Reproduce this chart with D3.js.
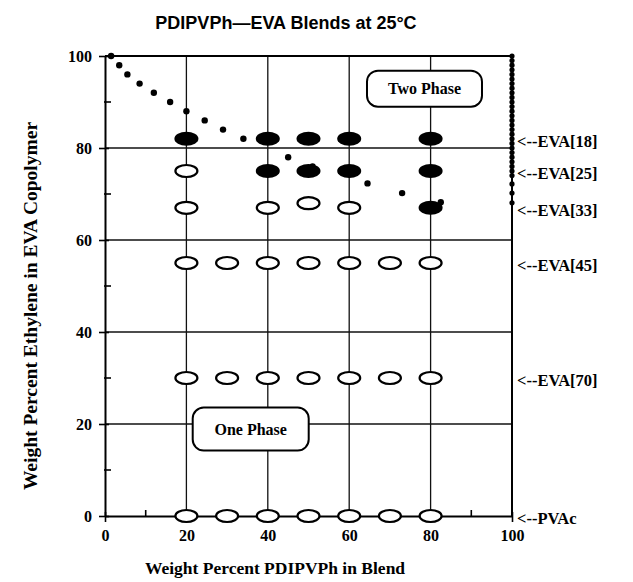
<!DOCTYPE html>
<html>
<head>
<meta charset="utf-8">
<script src="https://cdn.jsdelivr.net/npm/d3@7"></script>
<style>
  html, body { margin: 0; padding: 0; background: #fff; }
  svg { display: block; }
</style>
</head>
<body>
<svg id="chart" width="633" height="582"></svg>
<script>
// Axis ticks
const xMajorTicks = [0, 20, 40, 60, 80, 100];
const xMinorTicks = [10, 30, 50, 70, 90];
const yMajorTicks = [0, 20, 40, 60, 80, 100];
const yMinorTicks = [10, 30, 50, 70, 90];

// Copolymer grades and their ethylene content
const gradeLabels = ["<--EVA[18]", "<--EVA[25]", "<--EVA[33]", "<--EVA[45]", "<--EVA[70]", "<--PVAc"];
const gradeEthylene = [82, 75, 67, 55, 30, 0];

// Two-phase blends (filled markers)
const twoPhaseBlend    = [20, 40, 50, 60, 80, 40, 50, 60, 80, 80];
const twoPhaseEthylene = [82, 82, 82, 82, 82, 75, 75, 75, 75, 67];

// One-phase blends (open markers)
const onePhaseBlend    = [20, 20, 40, 50, 60,
                          20, 30, 40, 50, 60, 70, 80,
                          20, 30, 40, 50, 60, 70, 80,
                          20, 30, 40, 50, 60, 70, 80];
const onePhaseEthylene = [75, 67, 67, 68, 67,
                          55, 55, 55, 55, 55, 55, 55,
                          30, 30, 30, 30, 30, 30, 30,
                          0, 0, 0, 0, 0, 0, 0];

// Phase boundary (dotted curve)
const boundaryBlend    = [1.5, 3.5, 5.5, 8.5, 12, 16, 20, 24.5, 29, 34, 45, 51, 64.5, 73, 82.5];
const boundaryEthylene = [100, 98, 96, 94, 92, 90, 88, 86, 84, 82, 78, 76, 72.3, 70.2, 68.2];

// Boundary along the pure PDIPVPh edge
const edgeEthylene = [100, 99, 98, 97, 96, 95, 94, 93, 92, 91, 90, 89, 88, 87, 86, 85, 84,
                      83, 82, 81, 80, 79, 78, 77, 76, 75, 74, 72.2, 70.2, 68.1];

const svg = d3.select("#chart");
const W = 633, H = 582;
const plot = { left: 105, right: 512, top: 56, bottom: 516 };

const x = d3.scaleLinear().domain([0, 100]).range([plot.left, plot.right]);
const y = d3.scaleLinear().domain([0, 100]).range([plot.bottom, plot.top]);

const serif = "'Liberation Serif', 'Times New Roman', serif";
const sans = "'Liberation Sans', Arial, Helvetica, sans-serif";

svg.append("rect").attr("width", W).attr("height", H).attr("fill", "#fff");

// Title
svg.append("text")
  .attr("x", 286).attr("y", 29)
  .attr("text-anchor", "middle")
  .attr("font-family", sans).attr("font-weight", "bold").attr("font-size", 18)
  .text("PDIPVPh\u2014EVA Blends at 25\u00B0C");

// Grid lines
const grid = svg.append("g").attr("stroke", "#111").attr("stroke-width", 1.3);
grid.selectAll("line.h").data([20, 40, 60, 80]).join("line")
  .attr("x1", plot.left).attr("x2", plot.right)
  .attr("y1", d => y(d)).attr("y2", d => y(d));
grid.selectAll("line.v").data([20, 40, 60, 80]).join("line")
  .attr("x1", d => x(d)).attr("x2", d => x(d))
  .attr("y1", plot.top).attr("y2", plot.bottom);

// Frame (top and right)
svg.append("line").attr("x1", plot.left).attr("x2", plot.right)
  .attr("y1", plot.top).attr("y2", plot.top)
  .attr("stroke", "#000").attr("stroke-width", 1.8);
svg.append("line").attr("x1", plot.right).attr("x2", plot.right)
  .attr("y1", plot.top).attr("y2", plot.bottom)
  .attr("stroke", "#000").attr("stroke-width", 2);

// Axes
const xAxis = d3.axisBottom(x).tickValues(xMajorTicks).tickSize(0).tickPadding(14).tickFormat(d3.format("d"));
const gx = svg.append("g").attr("transform", `translate(0,${plot.bottom})`).call(xAxis);
gx.select(".domain").attr("stroke", "#000").attr("stroke-width", 2);
gx.selectAll("text").attr("font-family", serif).attr("font-weight", "bold").attr("font-size", 16).attr("fill", "#000");
gx.selectAll(".tick").append("line").attr("y1", -4).attr("y2", 6).attr("stroke", "#000").attr("stroke-width", 1.6);
gx.selectAll(".minor").data(xMinorTicks).join("line").attr("class", "minor")
  .attr("x1", d => x(d)).attr("x2", d => x(d)).attr("y1", -6).attr("y2", 1)
  .attr("stroke", "#000").attr("stroke-width", 1.6);

const yAxis = d3.axisLeft(y).tickValues(yMajorTicks).tickSize(0).tickPadding(13).tickFormat(d3.format("d"));
const gy = svg.append("g").attr("transform", `translate(${plot.left},0)`).call(yAxis);
gy.select(".domain").attr("stroke", "#000").attr("stroke-width", 2);
gy.selectAll("text").attr("font-family", serif).attr("font-weight", "bold").attr("font-size", 16).attr("fill", "#000");
gy.selectAll(".tick").append("line").attr("x1", -6).attr("x2", 4).attr("stroke", "#000").attr("stroke-width", 1.6);
gy.selectAll(".minor").data(yMinorTicks).join("line").attr("class", "minor")
  .attr("y1", d => y(d)).attr("y2", d => y(d)).attr("x1", -1).attr("x2", 6)
  .attr("stroke", "#000").attr("stroke-width", 1.6);

// Axis titles
svg.append("text")
  .attr("x", 275).attr("y", 574)
  .attr("text-anchor", "middle")
  .attr("font-family", serif).attr("font-weight", "bold").attr("font-size", 17.5)
  .text("Weight Percent PDIPVPh in Blend");
svg.append("text")
  .attr("transform", `translate(37,306) rotate(-90)`)
  .attr("text-anchor", "middle")
  .attr("font-family", serif).attr("font-weight", "bold").attr("font-size", 19.5)
  .text("Weight Percent Ethylene in EVA Copolymer");

// Phase annotation boxes
function phaseBox(cx, cy, w, h, label) {
  const g = svg.append("g");
  g.append("rect")
    .attr("x", x(cx) - w / 2).attr("y", y(cy) - h / 2)
    .attr("width", w).attr("height", h).attr("rx", 11).attr("ry", 11)
    .attr("fill", "#fff").attr("stroke", "#000").attr("stroke-width", 2);
  g.append("text")
    .attr("x", x(cx)).attr("y", y(cy)).attr("dy", "0.35em")
    .attr("text-anchor", "middle")
    .attr("font-family", serif).attr("font-weight", "bold").attr("font-size", 16)
    .text(label);
}
phaseBox(78.5, 92.9, 115, 36, "Two Phase");
phaseBox(35.8, 18.9, 116, 43, "One Phase");

// Open markers: miscible blends
svg.append("g").selectAll("ellipse")
  .data(onePhaseBlend.map((b, i) => [b, onePhaseEthylene[i]]))
  .join("ellipse")
  .attr("cx", d => x(d[0])).attr("cy", d => y(d[1]))
  .attr("rx", 11).attr("ry", 6)
  .attr("fill", "#fff").attr("stroke", "#000").attr("stroke-width", 2.2);

// Filled markers: phase-separated blends
svg.append("g").selectAll("ellipse")
  .data(twoPhaseBlend.map((b, i) => [b, twoPhaseEthylene[i]]))
  .join("ellipse")
  .attr("cx", d => x(d[0])).attr("cy", d => y(d[1]))
  .attr("rx", 12).attr("ry", 7)
  .attr("fill", "#000");

// Phase boundary dots
svg.append("g").selectAll("circle")
  .data(boundaryBlend.map((b, i) => [b, boundaryEthylene[i]]))
  .join("circle")
  .attr("cx", d => x(d[0])).attr("cy", d => y(d[1]))
  .attr("r", 3.2).attr("fill", "#000");
svg.append("g").selectAll("circle")
  .data(edgeEthylene)
  .join("circle")
  .attr("cx", x(100)).attr("cy", d => y(d))
  .attr("r", 2.6).attr("fill", "#000");

// Grade labels on the right
svg.append("g").selectAll("text")
  .data(gradeLabels.map((t, i) => [t, gradeEthylene[i]]))
  .join("text")
  .attr("x", plot.right + 5).attr("y", d => y(d[1])).attr("dy", "0.5em")
  .attr("font-family", serif).attr("font-weight", "bold").attr("font-size", 16.5)
  .text(d => d[0]);
</script>
</body>
</html>
